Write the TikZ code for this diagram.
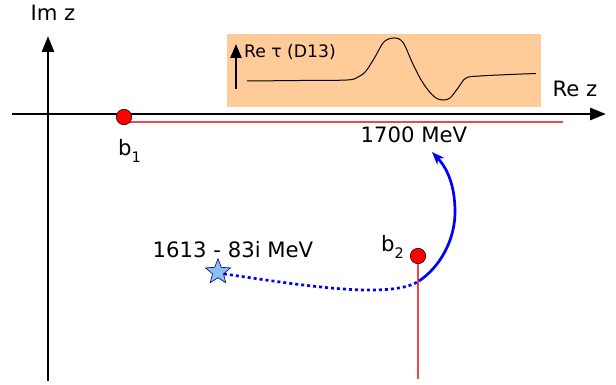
\documentclass[tikz,border=0pt]{standalone}
\usepackage{fontspec}
\setmainfont{DejaVu Sans}
\usetikzlibrary{arrows.meta,shapes.geometric}
\definecolor{peach}{RGB}{255,204,153}
\definecolor{cutred}{RGB}{240,72,72}
\definecolor{starblue}{RGB}{140,190,240}
\newcommand{\polelbl}[2]{#1\raisebox{-6.5pt}{\fontsize{14.5}{14.5}\selectfont #2}}

\begin{document}
\begin{tikzpicture}[x=1pt,y=-1pt,
  font=\fontsize{21.2}{25}\selectfont,
  axis/.style={line width=2.8pt,-{Triangle[length=16pt,width=12pt]}},
  pole/.style={circle,draw=black,line width=0.5pt,fill=red,minimum size=15.5pt,inner sep=0pt},
  cut/.style={cutred,line width=1.5pt},
  track/.style={blue,line width=2.7pt}]
\useasboundingbox (0,0) rectangle (616,385);

% complex plane
\coordinate (xl) at (12,114);
\coordinate (xr) at (606,114);
\coordinate (yb) at (48,381);
\coordinate (yt) at (48,36);
\draw[axis] (xl) -- (xr);
\draw[axis] (yb) -- (yt);
\node[anchor=base] (imz) at (53,20.5) {Im z};
\node[anchor=base] (rez) at (575,97) {Re z};

% inset with the amplitude
\node[fill=peach, minimum width=314pt, minimum height=73pt, inner sep=0pt, anchor=north west] (inset) at (227,34) {};
\coordinate (ib) at (236,89);
\coordinate (it) at (236,44);
\draw[line width=2.5pt,-{Triangle[length=14pt,width=11pt]}] (ib) -- (it);
\node[anchor=base west, font=\fontsize{17.2}{20}\selectfont, inner sep=0pt] (retau) at (244,58) {Re τ (D13)};
\draw[line width=1pt] plot[smooth, tension=0.55] coordinates {(247,81) (300,80.5) (347,80) (358,77) (366,71) (375,57) (383,43) (390,38.5) (398,38.5) (404,44) (412,62) (420,78) (428,90) (436,98) (443,100) (450,98) (458,88) (466,78) (480,76) (510,74.5) (536,73.5)};

% poles and cuts
\coordinate (p1) at (124,117);
\coordinate (p2) at (418,256);
\coordinate (cut1) at (563,122);
\coordinate (cut2) at (418,379);
\draw[cut] ([yshift=-5pt]p1) -- (cut1);
\draw[cut] (p2) -- (cut2);
\node[pole] (b1) at (p1) {};
\node[pole] (b2) at (p2) {};
\node[anchor=base] (b1lbl) at (129.5,156) {\polelbl{b}{1}};
\node[anchor=base] (b2lbl) at (392.5,251.7) {\polelbl{b}{2}};

% pole trajectory
\node[anchor=base] (mev) at (414,143) {1700 MeV};
\node[anchor=base] (starlbl) at (233,257) {1613 - 83i MeV};
\coordinate (turn) at (419,281);
\coordinate (tip) at (432,152);
\draw[track, dash pattern=on 3pt off 3pt] (218,273) .. controls (300,285) and (390,300) .. (turn);
\draw[track, -{Stealth[length=13pt,width=10pt]}] (turn) .. controls (440,267) and (455,240) .. (455,212)
  .. controls (455,185) and (447,168) .. (tip);
\node[star, star points=5, star point ratio=2.3, draw=black!60!blue, fill=starblue, line width=0.6pt, minimum size=26.5pt, inner sep=0pt] (star) at (218,272) {};
\end{tikzpicture}
\end{document}
